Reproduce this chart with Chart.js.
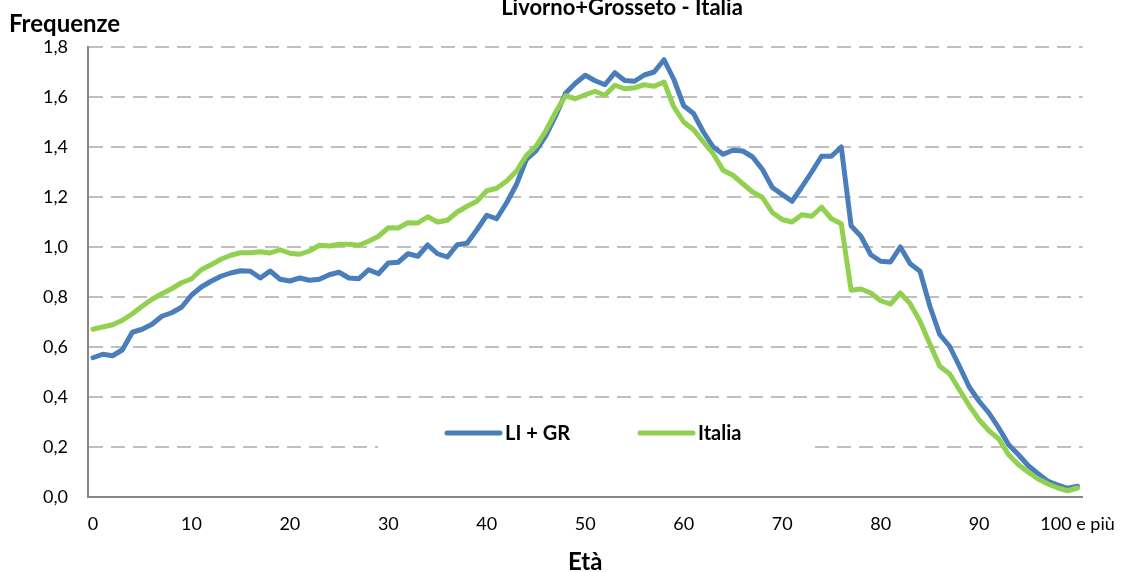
<!DOCTYPE html>
<html>
<head>
<meta charset="utf-8">
<script src="https://cdn.jsdelivr.net/npm/chart.js@4.4.0/dist/chart.umd.min.js"></script>
<style>
  html, body { margin: 0; padding: 0; background: #ffffff; }
  #contenitore { width: 1131px; height: 572px; position: relative; }
</style>
</head>
<body>
<div id="contenitore"><canvas id="grafico" width="1131" height="572"></canvas></div>
<script>
// titoli
const titolo = 'Livorno+Grosseto - Italia';
const titoloY = 'Frequenze';
const titoloX = 'Età';

// categorie: età 0..99 e "100 e più"
const eta = Array.from({ length: 101 }, (_, i) => (i === 100 ? '100 e più' : String(i)));

// valori
const liGr = [
  0.557, 0.571, 0.565, 0.589, 0.659, 0.671, 0.691, 0.723, 0.737, 0.759,
  0.807, 0.840, 0.863, 0.883, 0.896, 0.905, 0.903, 0.876, 0.904, 0.871,
  0.864, 0.876, 0.867, 0.871, 0.889, 0.899, 0.876, 0.873, 0.909, 0.893,
  0.936, 0.939, 0.973, 0.963, 1.008, 0.973, 0.960, 1.009, 1.015, 1.069,
  1.127, 1.113, 1.176, 1.249, 1.349, 1.385, 1.445, 1.525, 1.615, 1.655,
  1.687, 1.665, 1.649, 1.697, 1.666, 1.663, 1.688, 1.700, 1.749, 1.670,
  1.565, 1.534, 1.460, 1.400, 1.371, 1.387, 1.384, 1.360, 1.310, 1.238,
  1.210, 1.183, 1.240, 1.300, 1.363, 1.363, 1.400, 1.085, 1.043, 0.969,
  0.943, 0.940, 1.000, 0.933, 0.903, 0.763, 0.650, 0.603, 0.523, 0.440,
  0.383, 0.336, 0.276, 0.209, 0.169, 0.125, 0.093, 0.063, 0.048, 0.035,
  0.043
];

const italia = [
  0.671, 0.680, 0.689, 0.707, 0.733, 0.763, 0.791, 0.813, 0.833, 0.857,
  0.872, 0.909, 0.929, 0.951, 0.967, 0.977, 0.977, 0.981, 0.976, 0.989,
  0.975, 0.971, 0.984, 1.007, 1.004, 1.011, 1.011, 1.007, 1.023, 1.043,
  1.077, 1.076, 1.097, 1.096, 1.121, 1.100, 1.107, 1.140, 1.163, 1.183,
  1.225, 1.235, 1.263, 1.303, 1.365, 1.403, 1.465, 1.540, 1.605, 1.593,
  1.609, 1.623, 1.607, 1.647, 1.633, 1.637, 1.649, 1.643, 1.660, 1.560,
  1.500, 1.469, 1.420, 1.373, 1.307, 1.287, 1.253, 1.220, 1.198, 1.138,
  1.110, 1.100, 1.129, 1.123, 1.159, 1.113, 1.093, 0.827, 0.832, 0.816,
  0.785, 0.772, 0.816, 0.773, 0.703, 0.612, 0.523, 0.493, 0.429, 0.365,
  0.309, 0.265, 0.232, 0.169, 0.129, 0.099, 0.072, 0.052, 0.036, 0.025,
  0.036
];

// tacche asse Y
const tickY = [0, 0.2, 0.4, 0.6, 0.8, 1.0, 1.2, 1.4, 1.6, 1.8];

const FONT = 'Lato, "Open Sans", sans-serif';
const BLU = '#4A7EBB';
const VERDE = '#92D050';

// testi fuori dall'area del grafico + legenda dentro l'area
const testi = {
  id: 'testi',
  afterDraw(chart) {
    const ctx = chart.ctx;
    const area = chart.chartArea;
    ctx.save();
    ctx.fillStyle = '#000';
    ctx.textBaseline = 'alphabetic';

    ctx.font = 'bold 22px ' + FONT;
    ctx.textAlign = 'center';
    ctx.fillText(titolo, 622, 15);

    ctx.font = 'bold 24px ' + FONT;
    ctx.textAlign = 'left';
    ctx.fillText(titoloY, 9, 32);

    ctx.textAlign = 'center';
    ctx.fillText(titoloX, (area.left + area.right) / 2, 570);

    // legenda
    ctx.fillStyle = '#fff';
    ctx.fillRect(378, 416, 437, 36);
    const voci = [{ x: 447 }, { x: 640 }];
    ctx.font = 'bold 20px ' + FONT;
    ctx.textAlign = 'left';
    ctx.textBaseline = 'middle';
    chart.data.datasets.forEach((ds, i) => {
      const x = voci[i].x;
      ctx.strokeStyle = ds.borderColor;
      ctx.lineWidth = 5;
      ctx.lineCap = 'round';
      ctx.beginPath();
      ctx.moveTo(x, 433);
      ctx.lineTo(x + 53, 433);
      ctx.stroke();
      ctx.fillStyle = '#000';
      ctx.fillText(ds.label, x + 58, 434);
    });
    ctx.restore();
  }
};

const ctx = document.getElementById('grafico').getContext('2d');
const grafico = new Chart(ctx, {
  type: 'line',
  data: {
    labels: eta,
    datasets: [
      {
        label: 'LI + GR',
        data: liGr,
        borderColor: BLU,
        backgroundColor: BLU,
        borderWidth: 5,
        pointRadius: 0,
        tension: 0,
        borderJoinStyle: 'round',
        borderCapStyle: 'round',
        order: 1
      },
      {
        label: 'Italia',
        data: italia,
        borderColor: VERDE,
        backgroundColor: VERDE,
        borderWidth: 5,
        pointRadius: 0,
        tension: 0,
        borderJoinStyle: 'round',
        borderCapStyle: 'round',
        order: 0
      }
    ]
  },
  options: {
    responsive: false,
    animation: false,
    devicePixelRatio: 1,
    layout: { padding: { left: 0, right: 38, top: 47, bottom: 0 } },
    plugins: {
      legend: { display: false },
      title: { display: false },
      tooltip: { enabled: false }
    },
    scales: {
      x: {
        type: 'category',
        offset: true,
        grid: { display: false, drawTicks: false, tickLength: 0 },
        border: { display: true, color: '#868686', width: 2 },
        ticks: {
          autoSkip: false,
          maxRotation: 0,
          padding: 16,
          color: '#000',
          font: { family: FONT, size: 18 },
          callback: function (v, i) {
            return i % 10 === 0 ? this.getLabelForValue(v) : null;
          }
        },
        afterFit: (s) => { s.height = 75; }
      },
      y: {
        min: 0,
        max: 1.8,
        afterBuildTicks: (s) => { s.ticks = tickY.map(v => ({ value: v })); },
        grid: { color: '#BFBFBF', lineWidth: 2, drawTicks: false, tickLength: 0 },
        border: { display: true, color: '#868686', width: 2, dash: [14, 8] },
        ticks: {
          padding: 20,
          color: '#000',
          font: { family: FONT, size: 18 },
          callback: (v) => Number(v).toFixed(1).replace('.', ',')
        },
        afterFit: (s) => { s.width = 88; }
      }
    }
  },
  plugins: [testi]
});
</script>
</body>
</html>
